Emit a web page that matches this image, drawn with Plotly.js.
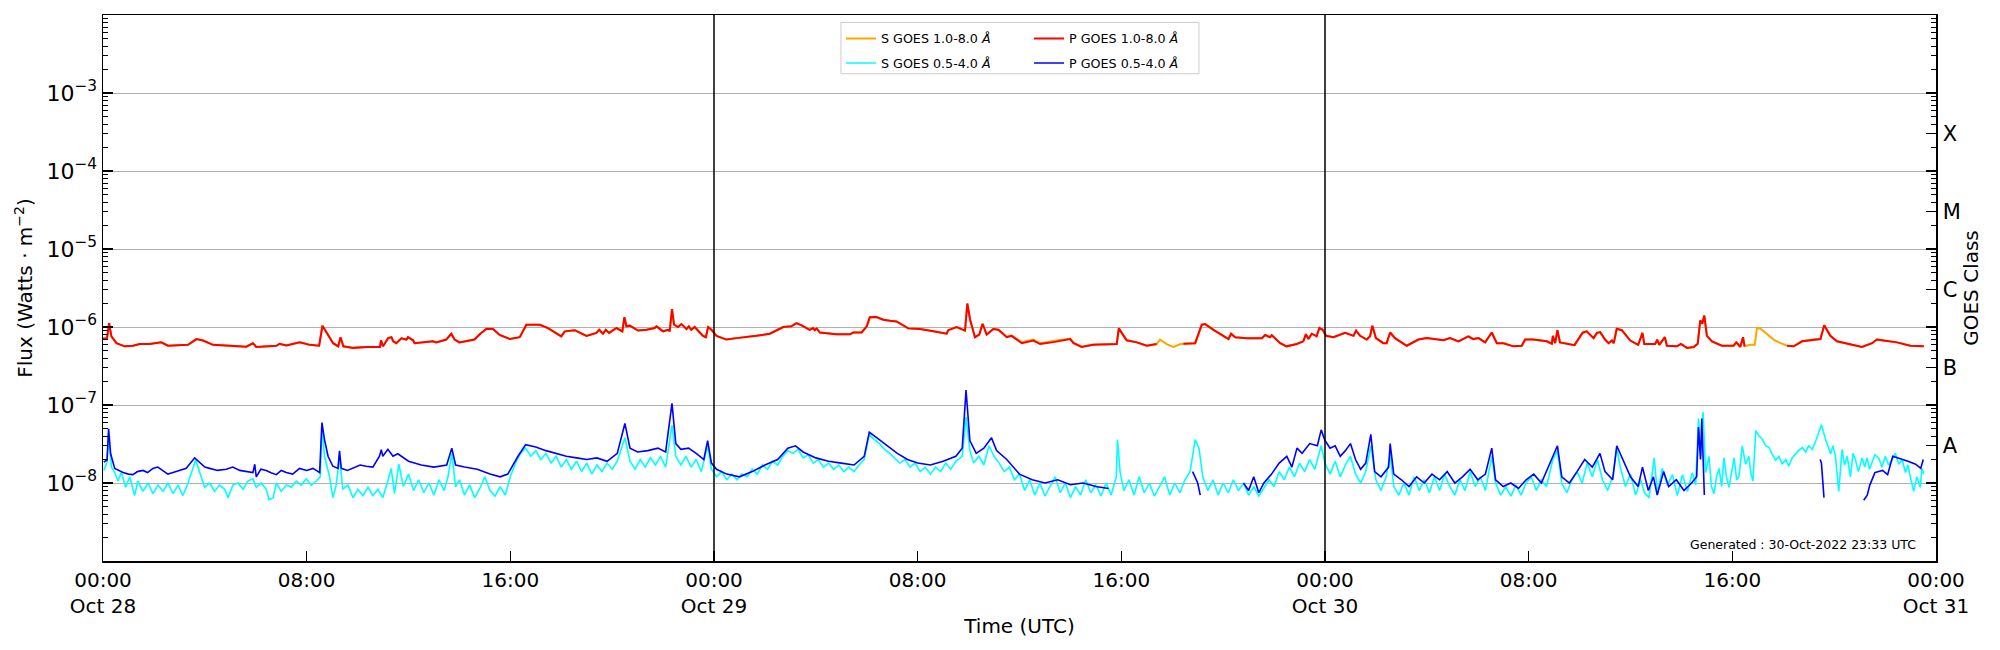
<!DOCTYPE html>
<html><head><meta charset="utf-8">
<script src="https://cdn.plot.ly/plotly-3.0.1.min.js"></script>
<style>html,body{margin:0;padding:0;background:#fff}</style>
</head><body><div id="chart" style="width:2000px;height:650px"></div>
<script>
// ---- data (hours since 2022-10-28 00:00 UTC, flux in W/m^2) ----
const longHours = [
0,0.16,0.24,0.33,0.53,0.85,1.18,1.44,1.83,2.29,
2.55,3.34,3.67,3.93,4.32,5.11,5.63,5.89,6.02,6.81,
6.94,7.2,7.73,8.12,8.49,8.62,8.78,9.04,9.24,9.33,
9.44,9.83,10.35,10.88,10.92,11,11.2,11.33,11.4,11.52,
11.72,11.92,11.98,12.18,12.24,12.96,13.09,13.48,13.68,13.81,
14,14.59,14.79,15.06,15.32,15.58,15.98,16.37,16.63,17.16,
17.48,17.81,18,18.14,18.53,18.99,19.38,19.49,19.64,19.75,
19.88,20.17,20.4,20.48,20.56,20.69,21.02,21.35,21.67,21.74,
22,22.2,22.26,22.35,22.43,22.59,22.72,22.92,23.01,23.11,
23.24,23.57,23.68,23.77,23.9,24.1,24.49,24.88,25.27,25.67,
26.19,26.72,27.04,27.24,27.44,27.76,27.89,27.96,28.03,28.16,
28.81,29.34,29.47,29.8,30,30.12,30.38,30.65,30.91,31.17,
31.63,32.09,32.62,33.14,33.2,33.53,33.86,33.95,34.06,34.25,
34.42,34.55,34.71,34.97,35.17,35.5,35.69,36.09,36.54,36.81,
37.33,37.99,38.12,38.44,38.9,39.43,39.82,39.9,40.21,40.61,
40.87,41,41.39,41.52,41.8,42.05,42.3,42.44,42.9,43.16,
43.29,43.62,44.21,44.31,44.47,44.93,45.52,45.65,45.84,45.91,
46.24,46.49,46.89,47.15,47.25,47.35,47.48,47.67,47.78,47.91,
48.04,48.33,48.79,49.12,49.22,49.38,49.64,49.77,49.86,50,
50.29,50.42,50.56,50.75,51.21,51.67,52,52.65,52.91,53.24,
53.63,53.83,54.03,54.29,54.55,54.75,55.01,55.4,55.73,55.86,
56.19,56.71,56.91,56.95,57.04,57.13,57.23,57.8,58.12,58.28,
58.55,58.68,58.81,59,59.14,59.27,59.34,59.46,59.66,59.99,
60.3,60.47,60.54,60.97,61.05,61.13,61.35,61.43,61.82,61.98,
62.22,62.48,62.64,62.74,62.82,62.9,63,63.2,63.59,64.05,
64.16,64.31,64.42,64.48,64.71,64.88,64.97,65.1,65.23,65.62,
65.9,66.15,66.41,66.74,67.19,67.46,67.61,67.85,68.11,68.63,
69.09,69.49,69.68,69.94,70.47,70.99,71.52];

// S GOES 1.0-8.0 A (secondary)
const longS = [
7.1e-7,7.2e-7,1.12e-6,7.6e-7,6.2e-7,5.65e-7,5.75e-7,6.05e-7,6.05e-7,6.35e-7,
5.75e-7,5.9e-7,7.0e-7,6.7e-7,5.9e-7,5.65e-7,5.6e-7,6.2e-7,5.55e-7,5.75e-7,
6.1e-7,5.8e-7,6.35e-7,5.9e-7,5.75e-7,1.04e-6,8.4e-7,6.2e-7,5.65e-7,7.4e-7,
5.65e-7,5.4e-7,5.55e-7,5.55e-7,6.75e-7,5.65e-7,7.2e-7,7.4e-7,6.55e-7,6.2e-7,
7.15e-7,6.9e-7,7.4e-7,6.75e-7,6.2e-7,6.55e-7,6.35e-7,6.9e-7,8.2e-7,6.9e-7,
6.35e-7,6.9e-7,8.0e-7,9.5e-7,9.4e-7,7.9e-7,7.0e-7,7.4e-7,1.07e-6,1.07e-6,
9.7e-7,8.2e-7,7.6e-7,8.8e-7,9.1e-7,7.7e-7,8.4e-7,9.2e-7,8.2e-7,9.2e-7,
8.4e-7,9.7e-7,8.8e-7,1.34e-6,1.02e-6,1.04e-6,9.0e-7,9.2e-7,9.7e-7,1.02e-6,
8.8e-7,9.2e-7,8.8e-7,1.7e-6,1.07e-6,1.0e-6,1.09e-6,9.4e-7,1.02e-6,9.2e-7,
1.0e-6,7.7e-7,7.4e-7,1.0e-6,9.2e-7,7.7e-7,6.9e-7,7.2e-7,7.4e-7,7.7e-7,
8.2e-7,1.0e-6,1.02e-6,1.12e-6,1.05e-6,9.2e-7,9.7e-7,9.1e-7,9.6e-7,8.5e-7,
8.05e-7,8.05e-7,8.5e-7,8.5e-7,1.02e-6,1.33e-6,1.34e-6,1.24e-6,1.2e-6,1.18e-6,
9.6e-7,9.4e-7,8.8e-7,8.2e-7,9.1e-7,1.0e-6,9.0e-7,2.0e-6,1.24e-6,7.4e-7,
8.0e-7,1.1e-6,8.0e-7,9.4e-7,9.2e-7,7.5e-7,7.8e-7,6.4e-7,6.9e-7,6.2e-7,
6.6e-7,7.1e-7,6.3e-7,5.6e-7,5.95e-7,6.05e-7,6.05e-7,9.6e-7,6.75e-7,6.35e-7,
5.9e-7,5.75e-7,6.05e-7,6.9e-7,6.0e-7,5.55e-7,6.0e-7,6.1e-7,6.2e-7,1.07e-6,
1.09e-6,9.2e-7,7.0e-7,8.2e-7,7.4e-7,7.2e-7,7.2e-7,7.9e-7,7.4e-7,7.85e-7,
6.2e-7,5.65e-7,6.05e-7,6.55e-7,8.1e-7,7.0e-7,8.2e-7,7.6e-7,9.7e-7,9.2e-7,
7.7e-7,7.4e-7,8.4e-7,7.7e-7,9.0e-7,7.7e-7,6.9e-7,7.6e-7,1.04e-6,7.2e-7,
6.2e-7,6.2e-7,8.5e-7,7.2e-7,5.75e-7,6.9e-7,7.2e-7,6.75e-7,7.2e-7,6.55e-7,
7.6e-7,7.0e-7,7.2e-7,6.35e-7,8.5e-7,6.2e-7,6.2e-7,5.65e-7,5.75e-7,6.9e-7,
6.9e-7,6.55e-7,6.1e-7,7.7e-7,6.2e-7,9.1e-7,6.35e-7,5.85e-7,8.45e-7,8.8e-7,
7.2e-7,8.4e-7,8.6e-7,6.9e-7,6.2e-7,6.7e-7,6.2e-7,9.5e-7,9.1e-7,6.7e-7,
5.9e-7,8.4e-7,6.05e-7,6.05e-7,6.9e-7,5.9e-7,7.4e-7,5.75e-7,5.65e-7,6.05e-7,
5.4e-7,5.55e-7,6.1e-7,1.22e-6,1.1e-6,1.4e-6,7.7e-7,6.55e-7,5.75e-7,5.75e-7,
6.35e-7,5.55e-7,7.4e-7,5.65e-7,5.9e-7,5.9e-7,9.7e-7,9.5e-7,8.8e-7,6.9e-7,
6.2e-7,5.75e-7,5.65e-7,6.55e-7,6.9e-7,7.0e-7,1.05e-6,7.7e-7,6.55e-7,6.05e-7,
5.55e-7,6.2e-7,6.9e-7,6.7e-7,6.35e-7,5.75e-7,5.65e-7];

// P GOES 1.0-8.0 A (primary), null where no data
const longP = [
7.1e-7,7.2e-7,1.12e-6,7.6e-7,6.2e-7,5.65e-7,5.75e-7,6.05e-7,6.05e-7,6.35e-7,
5.75e-7,5.9e-7,7.0e-7,6.7e-7,5.9e-7,5.65e-7,5.6e-7,6.2e-7,5.55e-7,5.75e-7,
6.1e-7,5.8e-7,6.35e-7,5.9e-7,5.75e-7,1.04e-6,8.4e-7,6.2e-7,5.65e-7,7.4e-7,
5.65e-7,5.4e-7,5.55e-7,5.55e-7,6.75e-7,5.65e-7,7.2e-7,7.4e-7,6.55e-7,6.2e-7,
7.15e-7,6.9e-7,7.4e-7,6.75e-7,6.2e-7,6.55e-7,6.35e-7,6.9e-7,8.2e-7,6.9e-7,
6.35e-7,6.9e-7,8.0e-7,9.5e-7,9.4e-7,7.9e-7,7.0e-7,7.4e-7,1.07e-6,1.07e-6,
9.7e-7,8.2e-7,7.6e-7,8.8e-7,9.1e-7,7.7e-7,8.4e-7,9.2e-7,8.2e-7,9.2e-7,
8.4e-7,9.7e-7,8.8e-7,1.34e-6,1.02e-6,1.04e-6,9.0e-7,9.2e-7,9.7e-7,1.02e-6,
8.8e-7,9.2e-7,8.8e-7,1.7e-6,1.07e-6,1.0e-6,1.09e-6,9.4e-7,1.02e-6,9.2e-7,
1.0e-6,7.7e-7,7.4e-7,1.0e-6,9.2e-7,7.7e-7,6.9e-7,7.2e-7,7.4e-7,7.7e-7,
8.2e-7,1.0e-6,1.02e-6,1.12e-6,1.05e-6,9.2e-7,9.7e-7,9.1e-7,9.6e-7,8.5e-7,
8.05e-7,8.05e-7,8.5e-7,8.5e-7,1.02e-6,1.33e-6,1.34e-6,1.24e-6,1.2e-6,1.18e-6,
9.6e-7,9.4e-7,8.8e-7,8.2e-7,9.1e-7,1.0e-6,9.0e-7,2.0e-6,1.24e-6,7.4e-7,
8.0e-7,1.1e-6,8.0e-7,9.4e-7,9.2e-7,7.4e-7,7.7e-7,6.2e-7,6.7e-7,6.05e-7,
6.4e-7,7.0e-7,6.2e-7,5.55e-7,5.9e-7,6.05e-7,6.05e-7,9.6e-7,6.75e-7,6.35e-7,
5.9e-7,5.75e-7,6.05e-7,null,null,null,null,6.1e-7,6.2e-7,1.07e-6,
1.09e-6,9.2e-7,7.0e-7,8.2e-7,7.4e-7,7.2e-7,7.2e-7,7.9e-7,7.4e-7,7.85e-7,
6.2e-7,5.65e-7,6.05e-7,6.55e-7,8.1e-7,7.0e-7,8.2e-7,7.6e-7,9.7e-7,9.2e-7,
7.7e-7,7.4e-7,8.4e-7,7.7e-7,9.0e-7,7.7e-7,6.9e-7,7.6e-7,1.04e-6,7.2e-7,
6.2e-7,6.2e-7,8.5e-7,7.2e-7,5.75e-7,6.9e-7,7.2e-7,6.75e-7,7.2e-7,6.55e-7,
7.6e-7,7.0e-7,7.2e-7,6.35e-7,8.5e-7,6.2e-7,6.2e-7,5.65e-7,5.75e-7,6.9e-7,
6.9e-7,6.55e-7,6.1e-7,7.7e-7,6.2e-7,9.1e-7,6.35e-7,5.85e-7,8.45e-7,8.8e-7,
7.2e-7,8.4e-7,8.6e-7,6.9e-7,6.2e-7,6.7e-7,6.2e-7,9.5e-7,9.1e-7,6.7e-7,
5.9e-7,8.4e-7,6.05e-7,6.05e-7,6.9e-7,5.9e-7,7.4e-7,5.75e-7,5.65e-7,6.05e-7,
5.4e-7,5.55e-7,6.1e-7,1.22e-6,1.1e-6,1.4e-6,7.7e-7,6.55e-7,5.75e-7,5.75e-7,
6.35e-7,5.55e-7,7.4e-7,5.65e-7,null,null,null,null,null,null,
null,5.75e-7,5.65e-7,6.55e-7,6.9e-7,7.0e-7,1.05e-6,7.7e-7,6.55e-7,6.05e-7,
5.55e-7,6.2e-7,6.9e-7,6.7e-7,6.35e-7,5.75e-7,5.65e-7];

// S GOES 0.5-4.0 A (secondary)
const shortSHours = [
0.03,0.16,0.22,0.33,0.46,0.59,0.72,0.89,1.05,1.24,
1.37,1.57,1.77,1.96,2.16,2.36,2.55,2.75,2.95,3.14,
3.34,3.53,3.64,3.8,3.99,4.19,4.38,4.58,4.78,4.91,
5.1,5.3,5.5,5.69,5.89,6.02,6.22,6.41,6.52,6.68,
6.81,7.0,7.2,7.4,7.59,7.79,7.98,8.18,8.38,8.53,
8.6,8.7,8.9,9.03,9.16,9.29,9.42,9.62,9.82,10.01,
10.21,10.41,10.6,10.8,10.99,11.19,11.32,11.45,11.62,11.8,
12,12.2,12.4,12.6,12.8,13,13.2,13.4,13.55,13.7,
13.85,14,14.2,14.4,14.6,14.8,15,15.2,15.4,15.6,
15.8,16,16.2,16.4,16.6,16.8,17,17.2,17.4,17.6,
17.8,18,18.2,18.4,18.6,18.8,19,19.2,19.4,19.6,
19.8,20,20.2,20.5,20.7,20.9,21.1,21.3,21.5,21.7,
21.9,22.1,22.35,22.5,22.7,22.9,23.1,23.3,23.5,23.75,
23.9,24.1,24.3,24.5,24.7,24.9,25.1,25.3,25.5,25.7,
25.9,26.1,26.3,26.5,26.7,26.9,27.1,27.3,27.5,27.7,
27.9,28.1,28.3,28.5,28.7,28.9,29.1,29.3,29.5,29.7,
29.9,30.1,30.3,30.5,30.7,30.9,31.1,31.3,31.5,31.7,
31.9,32.1,32.3,32.5,32.7,32.9,33.1,33.3,33.5,33.75,
33.9,34.05,34.2,34.4,34.6,34.8,35,35.2,35.4,35.6,
35.8,36,36.2,36.4,36.6,36.8,37,37.2,37.4,37.6,
37.8,38,38.2,38.4,38.6,38.8,39,39.2,39.4,39.6,
39.8,39.85,39.95,40.1,40.3,40.5,40.7,40.9,41.1,41.3,
41.5,41.7,41.9,42.1,42.3,42.5,42.7,42.9,43.05,43.2,
43.4,43.6,43.8,44,44.2,44.4,44.6,44.8,45,45.2,
45.4,45.6,45.8,46,46.2,46.4,46.6,46.8,47,47.2,
47.4,47.6,47.85,48,48.2,48.4,48.6,48.8,49,49.2,
49.4,49.6,49.8,50,50.2,50.4,50.56,50.7,50.9,51.1,
51.3,51.5,51.7,51.9,52.1,52.3,52.5,52.7,52.9,53.1,
53.3,53.5,53.7,53.9,54.1,54.3,54.55,54.7,54.9,55.1,
55.3,55.5,55.7,55.9,56.1,56.3,56.5,56.7,56.95,57.13,
57.3,57.5,57.7,57.9,58.1,58.3,58.5,58.7,58.9,59.1,
59.3,59.46,59.6,59.8,60,60.2,60.4,60.55,60.73,60.93,
61.06,61.25,61.45,61.65,61.84,62.04,62.24,62.43,62.56,62.67,
62.76,62.85,62.95,63.08,63.18,63.28,63.38,63.48,63.58,63.67,
63.77,63.87,63.97,64.07,64.17,64.26,64.39,64.52,64.65,64.73,
64.81,64.92,65.05,65.18,65.3,65.44,65.55,65.7,65.83,65.96,
66.1,66.22,66.35,66.48,66.6,66.75,66.88,67,67.14,67.27,
67.5,67.66,67.86,67.95,68.05,68.18,68.31,68.41,68.51,68.64,
68.74,68.84,68.95,69.1,69.2,69.29,69.39,69.49,69.6,69.75,
69.88,70.01,70.14,70.27,70.4,70.54,70.67,70.8,70.9,70.99,
71.12,71.25,71.38,71.45,71.52];
const shortS = [
1.45e-8,1.85e-8,4.4e-8,1.6e-8,1.36e-8,1.06e-8,1.36e-8,8.8e-9,1.2e-8,6.9e-9,
1.06e-8,7.8e-9,1.0e-8,7.3e-9,9.4e-9,7.8e-9,1.0e-8,7.3e-9,9.4e-9,6.9e-9,
1.0e-8,1.54e-8,1.97e-8,1.36e-8,8.8e-9,1.0e-8,7.8e-9,9.4e-9,8.3e-9,6.5e-9,
9.4e-9,1.0e-8,8.3e-9,1.06e-8,1.13e-8,8.8e-9,1.0e-8,8.3e-9,6.1e-9,6.5e-9,
1.0e-8,7.8e-9,9.4e-9,8.8e-9,1.06e-8,9.4e-9,1.13e-8,9.4e-9,1.06e-8,1.2e-8,
5.2e-8,2.2e-8,1.2e-8,6.5e-9,9.4e-9,2.2e-8,8.3e-9,9.4e-9,6.5e-9,8.3e-9,
6.9e-9,8.8e-9,6.9e-9,8.3e-9,6.5e-9,1.06e-8,1.54e-8,7.3e-9,1.74e-8,9e-9,
1.3e-8,8e-9,1.1e-8,7.5e-9,1.0e-8,7e-9,1.1e-8,8e-9,1.2e-8,2.4e-8,
9e-9,1.1e-8,7e-9,9.5e-9,6.5e-9,8.5e-9,1.2e-8,8e-9,6.8e-9,9e-9,
7e-9,1.2e-8,1.8e-8,2.4e-8,2.8e-8,2.2e-8,2.6e-8,2.0e-8,2.4e-8,1.8e-8,
2.2e-8,1.6e-8,2.0e-8,1.5e-8,1.9e-8,1.4e-8,1.8e-8,1.3e-8,1.7e-8,1.4e-8,
1.8e-8,1.5e-8,1.9e-8,3.8e-8,1.9e-8,1.5e-8,2.0e-8,1.6e-8,2.1e-8,1.7e-8,
2.2e-8,1.6e-8,5.5e-8,2.2e-8,1.7e-8,2.2e-8,1.6e-8,2.0e-8,1.4e-8,3.0e-8,
1.5e-8,1.2e-8,1.4e-8,1.1e-8,1.3e-8,1.1e-8,1.3e-8,1.2e-8,1.5e-8,1.3e-8,
1.7e-8,1.5e-8,1.9e-8,1.7e-8,2.2e-8,2.6e-8,2.4e-8,2.7e-8,2.1e-8,2.3e-8,
1.8e-8,2.0e-8,1.6e-8,1.8e-8,1.5e-8,1.7e-8,1.4e-8,1.6e-8,1.4e-8,1.7e-8,
2.0e-8,4.2e-8,3.6e-8,3.2e-8,2.7e-8,2.4e-8,2.1e-8,1.8e-8,2.0e-8,1.6e-8,
1.8e-8,1.4e-8,1.6e-8,1.3e-8,1.6e-8,1.4e-8,1.8e-8,1.5e-8,1.9e-8,2.2e-8,
7.0e-8,2.6e-8,1.8e-8,2.2e-8,1.7e-8,3.0e-8,2.2e-8,1.8e-8,1.4e-8,1.6e-8,
1.1e-8,1.3e-8,8e-9,1.1e-8,7e-9,1.0e-8,6.8e-9,9e-9,1.2e-8,7.5e-9,
1.0e-8,6.5e-9,9e-9,7e-9,1.1e-8,7.5e-9,9.5e-9,6.8e-9,1.0e-8,7e-9,
1.2e-8,3.6e-8,1.4e-8,8e-9,1.1e-8,7e-9,1.2e-8,7.5e-9,1.0e-8,6.8e-9,
9e-9,1.2e-8,7e-9,1.0e-8,7.5e-9,1.1e-8,1.4e-8,3.6e-8,2.8e-8,1.2e-8,
8e-9,1.1e-8,7e-9,1.0e-8,7.5e-9,1.1e-8,8e-9,1.0e-8,7e-9,9e-9,
6.8e-9,8.5e-9,1.1e-8,9e-9,1.4e-8,1.1e-8,1.6e-8,1.2e-8,1.8e-8,1.4e-8,
2.0e-8,1.5e-8,3.0e-8,1.8e-8,1.3e-8,1.9e-8,1.2e-8,1.7e-8,2.2e-8,1.3e-8,
1.0e-8,1.4e-8,3.0e-8,1.1e-8,8e-9,1.2e-8,2.4e-8,9e-9,7e-9,1.0e-8,
7e-9,1.2e-8,8e-9,1.1e-8,7.5e-9,1.2e-8,8e-9,1.3e-8,9e-9,7e-9,
1.1e-8,8e-9,1.4e-8,9e-9,1.2e-8,8e-9,2.2e-8,1.0e-8,7e-9,9e-9,
6.8e-9,9.5e-9,7e-9,1.0e-8,1.2e-8,8e-9,1.1e-8,9e-9,2.0e-8,2.6e-8,
1.0e-8,7.5e-9,1.1e-8,1.4e-8,1.0e-8,1.8e-8,1.2e-8,2.0e-8,1.1e-8,8e-9,
1.2e-8,2.8e-8,1.6e-8,9e-9,1.3e-8,7e-9,1.1e-8,7.5e-9,6.5e-9,2.1e-8,
7.3e-9,1.54e-8,9.4e-9,1.28e-8,6.9e-9,1.28e-8,7.8e-9,1.36e-8,9.4e-9,6.7e-8,
2.2e-8,8.1e-8,1.36e-8,2.2e-8,9e-9,7.3e-9,1.2e-8,1.54e-8,9e-9,2.1e-8,
1.2e-8,8.8e-9,1.4e-8,2.1e-8,1.1e-8,1.2e-8,3.0e-8,1.74e-8,2.2e-8,1.3e-8,
1.06e-8,4.7e-8,4.0e-8,3.65e-8,3.0e-8,2.85e-8,2.4e-8,1.97e-8,2.2e-8,1.74e-8,
2.0e-8,1.64e-8,2.1e-8,2.37e-8,2.6e-8,2.85e-8,2.5e-8,3.0e-8,2.7e-8,3.4e-8,
5.6e-8,3.65e-8,2.37e-8,3.0e-8,2.2e-8,7.8e-9,2.7e-8,1.7e-8,2.2e-8,1.2e-8,
2.4e-8,1.97e-8,1.4e-8,2.1e-8,1.6e-8,2.1e-8,1.5e-8,1.85e-8,2.3e-8,2.1e-8,
1.6e-8,2.2e-8,1.7e-8,1.97e-8,2.4e-8,1.74e-8,2.0e-8,1.36e-8,1.7e-8,1.2e-8,
7.8e-9,1.2e-8,8.8e-9,1.54e-8,1.3e-8];

// P GOES 0.5-4.0 A (primary), null where no data
const shortPHours = [
0.03,0.16,0.22,0.3,0.46,0.6,0.79,1.0,1.18,1.35,
1.57,1.75,1.96,2.15,2.36,2.55,2.75,3.0,3.27,3.6,
3.8,4.0,4.19,4.5,4.84,5.1,5.37,5.6,5.89,5.96,
6.02,6.2,6.41,6.6,6.81,7.0,7.2,7.45,7.72,8.0,
8.25,8.51,8.6,8.7,8.84,9.03,9.23,9.29,9.36,9.6,
9.82,10.1,10.34,10.6,10.86,10.93,10.99,11.19,11.39,11.58,
12,12.5,13,13.5,13.7,13.85,14.2,14.7,15.2,15.6,
15.9,16.3,16.6,17,17.4,17.8,18.2,18.6,19,19.4,
19.8,20.2,20.5,20.7,21,21.4,21.8,22.1,22.35,22.5,
22.7,23,23.3,23.6,23.75,23.9,24.1,24.5,25,25.5,
26,26.5,26.9,27.2,27.5,28,28.5,29,29.5,29.9,
30.1,30.4,30.8,31.2,31.6,32,32.5,33,33.5,33.75,
33.9,34.05,34.3,34.6,34.9,35.1,35.5,36,36.5,37,
37.5,38,38.5,39,39.5,39.6,42.8,43,43.1,43.2,
44.8,45,45.2,45.4,45.6,45.9,46.2,46.5,46.7,46.9,
47.1,47.4,47.7,47.85,48,48.2,48.4,48.6,48.8,49,
49.2,49.4,49.6,49.8,49.95,50.2,50.5,50.56,50.7,51,
51.3,51.6,51.9,52.2,52.5,52.8,53.1,53.4,53.7,54,
54.3,54.55,54.7,55,55.3,55.6,55.9,56.2,56.5,56.95,
57.13,57.3,57.6,57.9,58.2,58.5,58.8,59,59.3,59.46,
59.7,60,60.3,60.47,60.7,60.9,61.05,61.3,61.5,61.8,
62.1,62.4,62.6,62.67,62.75,62.8,62.9,63,67.45,67.5,
67.6,67.7,69.16,69.3,69.4,69.6,69.9,70.1,70.3,70.5,
70.7,70.9,71.2,71.4,71.5];
const shortP = [
1.85e-8,1.97e-8,4.96e-8,2.37e-8,1.54e-8,1.45e-8,1.36e-8,1.3e-8,1.28e-8,1.4e-8,
1.45e-8,1.36e-8,1.54e-8,1.6e-8,1.45e-8,1.3e-8,1.36e-8,1.45e-8,1.54e-8,2.1e-8,
1.85e-8,1.6e-8,1.54e-8,1.45e-8,1.5e-8,1.6e-8,1.45e-8,1.4e-8,1.36e-8,1.74e-8,
1.2e-8,1.5e-8,1.45e-8,1.35e-8,1.28e-8,1.45e-8,1.36e-8,1.3e-8,1.54e-8,1.45e-8,
1.54e-8,1.36e-8,5.96e-8,3.6e-8,2.2e-8,1.64e-8,1.54e-8,2.58e-8,1.54e-8,1.45e-8,
1.54e-8,1.7e-8,1.64e-8,1.6e-8,2.2e-8,2.68e-8,2.2e-8,2.7e-8,2.2e-8,2.37e-8,
1.9e-8,1.7e-8,1.6e-8,1.7e-8,2.8e-8,1.7e-8,1.6e-8,1.5e-8,1.3e-8,1.2e-8,
1.3e-8,2.2e-8,3.1e-8,2.9e-8,2.6e-8,2.4e-8,2.2e-8,2.1e-8,2.0e-8,2.1e-8,
1.9e-8,2.4e-8,5.8e-8,2.8e-8,2.5e-8,2.6e-8,2.8e-8,2.5e-8,1.05e-7,3.2e-8,
2.7e-8,2.8e-8,2.4e-8,2.0e-8,3.5e-8,1.8e-8,1.5e-8,1.3e-8,1.2e-8,1.4e-8,
1.7e-8,2.0e-8,2.8e-8,3.0e-8,2.5e-8,2.1e-8,1.9e-8,1.8e-8,1.7e-8,2.2e-8,
4.5e-8,3.8e-8,3.0e-8,2.4e-8,2.0e-8,1.8e-8,1.7e-8,1.9e-8,2.2e-8,2.8e-8,
1.55e-7,3.5e-8,2.4e-8,2.8e-8,3.8e-8,2.6e-8,2.0e-8,1.3e-8,1.1e-8,1.0e-8,
1.1e-8,9.5e-9,1.0e-8,9e-9,8.5e-9,null,1.4e-8,1.0e-8,7e-9,null,
1.0e-8,8e-9,1.2e-8,7.5e-9,1.0e-8,1.3e-8,1.8e-8,2.2e-8,1.6e-8,2.8e-8,
2.4e-8,3.2e-8,3.0e-8,4.8e-8,3.5e-8,2.8e-8,3.0e-8,2.2e-8,2.6e-8,3.2e-8,
2.0e-8,1.5e-8,1.8e-8,4.2e-8,1.4e-8,1.2e-8,1.6e-8,3.2e-8,1.3e-8,1.1e-8,
9e-9,1.2e-8,1.0e-8,1.3e-8,1.1e-8,1.4e-8,1.0e-8,1.2e-8,1.5e-8,1.1e-8,
1.3e-8,2.8e-8,1.1e-8,9e-9,1.0e-8,8.5e-9,1.1e-8,1.3e-8,1.0e-8,2.2e-8,
3.0e-8,1.2e-8,1.0e-8,1.4e-8,2.0e-8,1.6e-8,2.4e-8,1.4e-8,1.1e-8,3.0e-8,
2.0e-8,1.2e-8,9e-9,1.6e-8,8e-9,1.2e-8,7e-9,1.4e-8,9e-9,1.1e-8,
8e-9,1.0e-8,1.2e-8,5.2e-8,2.0e-8,6.7e-8,7e-9,null,2.0e-8,1.8e-8,
6.5e-9,null,6e-9,7e-9,9.4e-9,1.36e-8,1.45e-8,1.28e-8,2.2e-8,2.1e-8,
2.0e-8,1.9e-8,1.74e-8,1.54e-8,2.0e-8];

// axis / tick label data
const tickHours = [0,8,16,24,32,40,48,56,64,72];
const tickLabels = ['00:00<br>Oct 28','08:00','16:00','00:00<br>Oct 29','08:00','16:00','00:00<br>Oct 30','08:00','16:00','00:00<br>Oct 31'];
const decadeValues = [1e-8,1e-7,1e-6,1e-5,1e-4,1e-3];
const decadeLabels = ['10<sup>−8</sup>','10<sup>−7</sup>','10<sup>−6</sup>','10<sup>−5</sup>','10<sup>−4</sup>','10<sup>−3</sup>'];
const classValues = [3e-8,3e-7,3e-6,3e-5,3e-4];
const classLabels = ['A','B','C','M','X'];
const dayBoundaryHours = [24,48];
const generatedText = 'Generated : 30-Oct-2022 23:33 UTC';

// ---- build ----
const base = Date.UTC(2022,9,28);
const toTime = hs => hs.map(h => base + h*3600000);

const minorVals = [];
for (let e=-9; e<=-3; e++) for (let m=2; m<=9; m++) minorVals.push(m*Math.pow(10,e));

const traces = [
 {type:'scatter',mode:'lines',x:toTime(longHours),y:longS,name:'S GOES 1.0-8.0 <i>Å</i>',line:{color:'#ffa500',width:2},legend:'legend',legendgroup:'g1',hoverinfo:'skip'},
 {type:'scatter',mode:'lines',x:toTime(shortSHours),y:shortS,name:'S GOES 0.5-4.0 <i>Å</i>',line:{color:'#00ffff',width:1.6},legend:'legend',legendgroup:'g2',hoverinfo:'skip'},
 {type:'scatter',mode:'lines',x:toTime(longHours),y:longP,name:'P GOES 1.0-8.0 <i>Å</i>',line:{color:'#ff0000',width:2},legend:'legend2',legendgroup:'g3',hoverinfo:'skip'},
 {type:'scatter',mode:'lines',x:toTime(shortPHours),y:shortP,name:'P GOES 0.5-4.0 <i>Å</i>',line:{color:'#0000ff',width:1.6},legend:'legend2',legendgroup:'g4',hoverinfo:'skip'}
];
// empty helper traces so the overlay axes (class labels, minor ticks) get drawn
['y2','y3','y4','y5'].forEach(a => traces.push({type:'scatter',mode:'lines',x:[null],y:[null],yaxis:a,showlegend:false,hoverinfo:'skip'}));

const logRange = [-9,-2];
const shapes = dayBoundaryHours.map(h => ({type:'line',xref:'x',yref:'paper',x0:base+h*3600000,x1:base+h*3600000,y0:0,y1:1,line:{color:'#000',width:1.5},layer:'above'}));
shapes.push({type:'rect',xref:'paper',yref:'paper',x0:0.4026,x1:0.5979,y0:0.8924,y1:0.9864,line:{color:'#cccccc',width:1},fillcolor:'rgba(255,255,255,0.8)',layer:'above'});

const legendCommon = {y:0.984,xanchor:'left',yanchor:'top',bgcolor:'rgba(0,0,0,0)',borderwidth:0,font:{size:12.7,family:'DejaVu Sans',color:'#000'},tracegroupgap:5,itemwidth:30};
const overlayCommon = {overlaying:'y',type:'log',range:logRange,tickmode:'array',tickcolor:'#000',showline:false,showgrid:false,zeroline:false,automargin:false};

const layout = {
 width:2000,height:650,
 margin:{l:103,r:64,t:15,b:89,pad:0},
 paper_bgcolor:'#fff',plot_bgcolor:'#fff',
 font:{family:'DejaVu Sans',size:20,color:'#000'},
 showlegend:true,
 legend:Object.assign({x:0.4026},legendCommon),
 legend2:Object.assign({x:0.5052},legendCommon),
 xaxis:{type:'date',range:[base,base+72*3600000],tickmode:'array',tickvals:toTime(tickHours),ticktext:tickLabels,
   ticks:'inside',ticklen:10,tickwidth:1.2,tickcolor:'#000',showline:true,mirror:true,linecolor:'#000',linewidth:1.5,
   showgrid:false,zeroline:false,automargin:false,tickfont:{size:20},
   title:{text:'Time (UTC)',font:{size:20},standoff:2}},
 yaxis:{type:'log',range:logRange,tickmode:'array',tickvals:decadeValues,ticktext:decadeLabels,
   ticks:'inside',ticklen:10,tickwidth:1.2,tickcolor:'#000',showline:true,linecolor:'#000',linewidth:1.5,
   showgrid:true,gridcolor:'#b0b0b0',gridwidth:1,zeroline:false,automargin:false,ticklabelstandoff:0,tickfont:{size:22},
   title:{text:'Flux (Watts · m<sup>−2</sup>)',font:{size:20},standoff:8}},
 yaxis2:Object.assign({},overlayCommon,{side:'right',tickvals:classValues,ticktext:classLabels,
   ticks:'inside',ticklen:10,tickwidth:1.2,showline:true,linecolor:'#000',linewidth:1.5,
   ticklabelstandoff:1,tickfont:{size:21},title:{text:'GOES Class',font:{size:20},standoff:4}}),
 yaxis3:Object.assign({},overlayCommon,{side:'left',tickvals:minorVals,ticks:'inside',ticklen:5,tickwidth:1,showticklabels:false}),
 yaxis4:Object.assign({},overlayCommon,{side:'right',tickvals:minorVals,ticks:'inside',ticklen:5,tickwidth:1,showticklabels:false}),
 yaxis5:Object.assign({},overlayCommon,{side:'right',tickvals:decadeValues,ticks:'inside',ticklen:10,tickwidth:1.2,showticklabels:false}),
 shapes:shapes,
 annotations:[{text:generatedText,xref:'paper',yref:'paper',x:0.99,y:0.031,xanchor:'right',yanchor:'middle',showarrow:false,font:{size:12.5,family:'DejaVu Sans',color:'#000'}}]
};

Plotly.newPlot('chart',traces,layout,{displayModeBar:false,staticPlot:true});
</script></body></html>
